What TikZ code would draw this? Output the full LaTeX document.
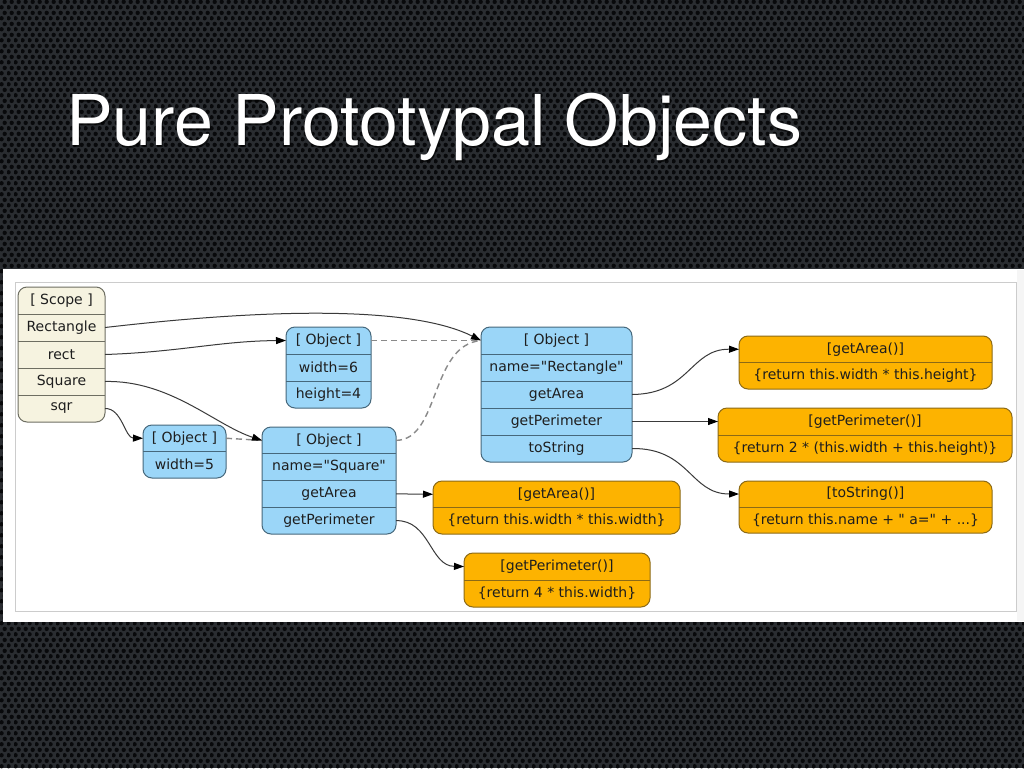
\documentclass[tikz,border=0pt]{standalone}
\usepackage{fontspec}
\setmainfont{DejaVu Sans}[Ligatures=TeXOff]
\newfontfamily\titlefont{TeX Gyre Heros}
\usetikzlibrary{arrows.meta,patterns.meta}
\definecolor{scopefill}{HTML}{F6F3E0}
\definecolor{scopeline}{HTML}{6E6E62}
\definecolor{objfill}{HTML}{9BD6F8}
\definecolor{objline}{HTML}{46687C}
\definecolor{fnfill}{HTML}{FDB300}
\definecolor{fnline}{HTML}{8C6A16}
\definecolor{edgecol}{HTML}{3A3A3A}
\definecolor{dashcol}{HTML}{8A8A8A}
\definecolor{metal}{HTML}{2A2D31}
\definecolor{hole}{HTML}{08090B}
\definecolor{txt}{HTML}{1E1E1E}
\newcommand{\dq}{\symbol{34}}
\tikzdeclarepattern{name=holes, type=uncolored,
  bounding box={(0pt,0pt) and (6.6pt,11.4pt)},
  tile size={(6.6pt,11.4pt)},
  code={\fill (1.65pt,2.85pt) circle (2.3pt) (4.95pt,8.55pt) circle (2.3pt);}}
\tikzset{
  recbox/.style={draw, line width=1pt, rounded corners=9pt, inner sep=0pt, outer sep=0pt, anchor=north west},
  scopebox/.style={recbox, fill=scopefill, draw=scopeline},
  objbox/.style={recbox, fill=objfill, draw=objline},
  fnbox/.style={recbox, fill=fnfill, draw=fnline},
  cell/.style={inner sep=0pt, outer sep=0pt, text=txt, font=\fontsize{14}{16}\selectfont},
  edge/.style={draw=edgecol, line width=1pt, -{Triangle[length=10pt,width=7pt,color=black,fill=black]}},
  dedge/.style={draw=dashcol, line width=1.4pt, dash pattern=on 6pt off 4pt},
}
% #1 name, #2 left, #3 top, #4 right, #5 bottom, #6 rows, #7 box style, #8 row texts
\newcommand{\record}[8]{%
  \pgfmathsetmacro{\rw}{#4-#2}%
  \pgfmathsetmacro{\rh}{(#5-#3)/#6}%
  \node[#7, minimum width=\rw pt, minimum height={#5-#3}] (#1) at (#2,#3) {};
  \foreach \txt [count=\i] in {#8} {%
    \node[cell, minimum width=\rw pt, minimum height=\rh pt] (#1\i) at ({(#2+#4)/2},{#3+(\i-0.5)*\rh}) {\txt};
    \ifnum\i>1
      \draw[#7, rounded corners=0pt, fill=none] (#2,{#3+(\i-1)*\rh}) -- (#4,{#3+(\i-1)*\rh});
    \fi
  }%
}
\begin{document}
\begin{tikzpicture}[x=1pt,y=-1pt]
\useasboundingbox (0,0) rectangle (1024,768);
% background
\fill[metal] (0,0) rectangle (1024,768);
\fill[pattern=holes, pattern color=hole] (0,0) rectangle (1024,768);
% title
\node[anchor=base west, text=black, opacity=0.6, inner sep=0pt, font=\titlefont\fontsize{70}{72}\selectfont] (titleshadow) at (67,147) {Pure Prototypal Objects};
\node[anchor=base west, text=white, inner sep=0pt, font=\titlefont\fontsize{70}{72}\selectfont] (title) at (66,145) {Pure Prototypal Objects};
% panel
\fill[white] (3,269) rectangle (1024,622);
\draw[black!20, line width=1pt] (15,282) rectangle (1016,611);
\fill[black!4] (1017,270) rectangle (1024,621);
% records
\record{sc}{18}{287}{105}{422}{5}{scopebox}{{[ Scope ]},{Rectangle},{rect},{Square},{sqr}}
\record{ob}{286}{327}{371}{408}{3}{objbox}{{[ Object ]},{width=6},{height=4}}
\record{ofive}{143}{425}{226}{478}{2}{objbox}{{[ Object ]},{width=5}}
\record{sq}{262}{427}{396}{534}{4}{objbox}{{[ Object ]},{name=\dq Square\dq},{getArea},{getPerimeter}}
\record{re}{481}{327}{632}{462}{5}{objbox}{{[ Object ]},{name=\dq Rectangle\dq},{getArea},{getPerimeter},{toString}}
\record{ra}{739}{336}{992}{389}{2}{fnbox}{{[getArea()]},{\{return this.width * this.height\}}}
\record{rp}{718}{408}{1012}{462}{2}{fnbox}{{[getPerimeter()]},{\{return 2 * (this.width + this.height)\}}}
\record{rt}{739}{481}{992}{533}{2}{fnbox}{{[toString()]},{\{return this.name + \dq\ a=\dq\ + .{}.{}.\}}}
\record{sa}{433}{481}{680}{534}{2}{fnbox}{{[getArea()]},{\{return this.width * this.width\}}}
\record{sp}{464}{553}{650}{607}{2}{fnbox}{{[getPerimeter()]},{\{return 4 * this.width\}}}
% dashed prototype links
\draw[dedge] (ofive1.east) -- (sq1.west);
\draw[dedge] (ob1.east) -- (re1.west);
\draw[dedge] (sq1.east) .. controls (440,440) and (430,345) .. (re1.west);
% solid links
\draw[edge] (sc2.east) .. controls (300,305) and (420,310) .. (re1.west);
\draw[edge] (sc3.east) .. controls (180,352) and (220,341) .. (ob1.west);
\draw[edge] (sc4.east) .. controls (170,380) and (215,425) .. (sq1.west);
\draw[edge] (sc5.east) .. controls (122,408) and (125,438) .. (ofive1.west);
\draw[edge] (re3.east) .. controls (690,394) and (690,349) .. (ra1.west);
\draw[edge] (re4.east) -- (rp1.west);
\draw[edge] (re5.east) .. controls (690,448) and (690,494) .. (rt1.west);
\draw[edge] (sq3.east) -- (sa1.west);
\draw[edge] (sq4.east) .. controls (430,520) and (430,566) .. (sp1.west);
\end{tikzpicture}
\end{document}
